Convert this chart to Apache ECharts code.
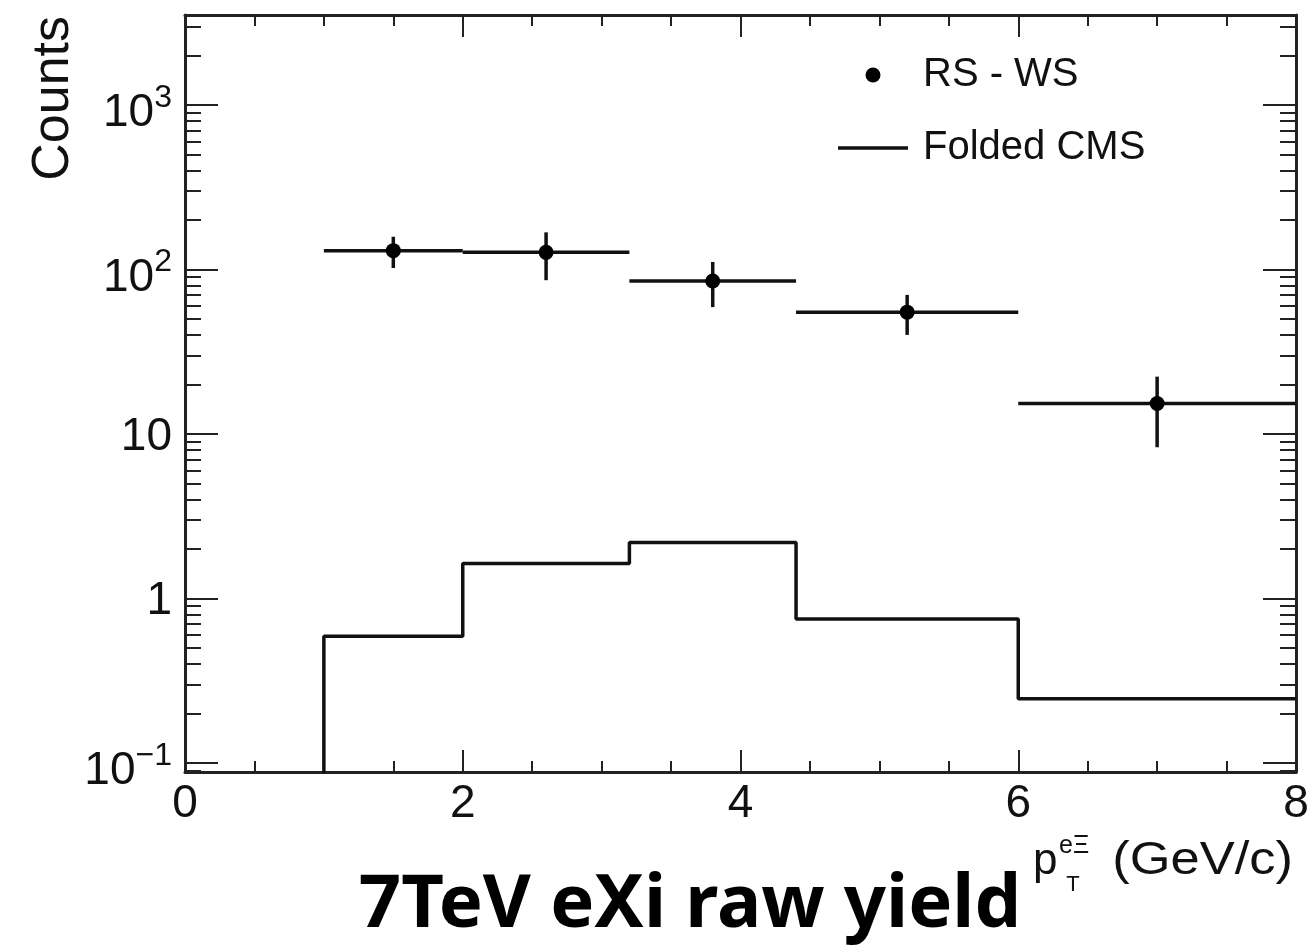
<!DOCTYPE html>
<html>
<head>
<meta charset="utf-8">
<title>7TeV eXi raw yield</title>
<script src="https://cdn.jsdelivr.net/npm/echarts@6/dist/echarts.min.js"></script>
<style>
  html, body { margin: 0; padding: 0; background: #fff; }
  #chart { width: 1312px; height: 945px; }
</style>
</head>
<body>
<div id="chart"></div>
<script>
// bin edges of the pT histogram (GeV/c)
const binEdges = [0, 1, 2, 3.2, 4.4, 6, 8];

// RS - WS points: centre, value, stat. error, bin range
const rsX = [1.5, 2.6, 3.8, 5.2, 7.0];
const rsY = [130, 127, 85, 55, 15.3];
const rsErr = [28, 41, 26, 15, 7];
const rsLo = [1, 2, 3.2, 4.4, 6];
const rsHi = [2, 3.2, 4.4, 6, 8];

// Folded CMS, one value per bin (first bin is below the axis range)
const foldedCMS = [0.01, 0.59, 1.63, 2.19, 0.75, 0.246];

// axes
const xMin = 0, xMax = 8, xInterval = 2;
const yMin = 0.0881, yMax = 3520;
const yMajor = [0.1, 1, 10, 100, 1000];
const yTickLabels = ["10^−1", "1", "10", "10^2", "10^3"];
const yMinor = [];
for (let k = -2; k <= 3; k++) {
  for (let m = 2; m <= 9; m++) {
    const v = m * Math.pow(10, k);
    if (v > yMin && v < yMax) yMinor.push(+v.toPrecision(3));
  }
}

const frameColor = "#222";
const inkColor = "#111";

const chart = echarts.init(document.getElementById("chart"));

// histogram as step line: left edge of each bin + last edge
const histData = foldedCMS.map((v, i) => [binEdges[i], v]);
histData.push([binEdges[binEdges.length - 1], foldedCMS[foldedCMS.length - 1]]);

const errData = rsX.map((x, i) => [x, rsY[i], rsLo[i], rsHi[i], rsErr[i]]);

function yLabelFmt(val) {
  const i = yMajor.findIndex(t => Math.abs(t - val) / t < 1e-6);
  if (i < 0) return "";
  const parts = yTickLabels[i].split("^");
  if (parts.length === 1) return "{n|" + parts[0] + "}";
  return "{b|" + parts[0] + "}{s|" + parts[1] + "}";
}

function yAxisCfg(pos, minor) {
  return {
    type: "log",
    logBase: 10,
    position: pos,
    min: yMin,
    max: yMax,
    axisLine: { show: !minor, lineStyle: { color: frameColor, width: 3 } },
    axisTick: {
      show: true,
      inside: true,
      length: minor ? 16 : 33,
      customValues: minor ? yMinor : yMajor,
      lineStyle: { color: frameColor, width: 2 },
    },
    axisLabel: {
      show: !minor && pos === "left",
      customValues: yMajor,
      margin: 13,
      formatter: yLabelFmt,
      rich: {
        n: { fontSize: 46, color: inkColor, fontFamily: "Liberation Sans", padding: [6, 0, 0, 0] },
        b: { fontSize: 46, color: inkColor, fontFamily: "Liberation Sans", lineHeight: 46, padding: [17, 0, 0, 0] },
        s: { fontSize: 32, color: inkColor, fontFamily: "Liberation Sans", lineHeight: 43, verticalAlign: "top" },
      },
    },
    splitLine: { show: false },
    minorTick: { show: false },
  };
}

function xAxisCfg(pos) {
  return {
    type: "value",
    position: pos,
    min: xMin,
    max: xMax,
    interval: xInterval,
    axisLine: { show: true, onZero: false, lineStyle: { color: frameColor, width: 3 } },
    axisTick: { show: true, inside: true, length: 22, lineStyle: { color: frameColor, width: 2 } },
    minorTick: { show: true, splitNumber: 4, length: 11, lineStyle: { color: frameColor, width: 2 } },
    axisLabel: {
      show: pos === "bottom",
      fontSize: 46,
      color: inkColor,
      margin: 9,
      fontFamily: "Liberation Sans",
    },
    splitLine: { show: false },
    minorSplitLine: { show: false },
  };
}

const option = {
  animation: false,
  backgroundColor: "#fff",
  textStyle: { fontFamily: "Liberation Sans" },
  grid: { left: 185, right: 16, top: 15, bottom: 173, containLabel: false },
  xAxis: [xAxisCfg("bottom"), xAxisCfg("top")],
  yAxis: [
    yAxisCfg("left", false),
    yAxisCfg("left", true),
    yAxisCfg("right", false),
    yAxisCfg("right", true),
  ],
  legend: {
    orient: "vertical",
    left: 833,
    top: 50,
    itemWidth: 70,
    itemHeight: 15,
    itemGap: 33,
    textStyle: { fontSize: 40, color: inkColor, fontFamily: "Liberation Sans", padding: [0, 0, 0, 10] },
    data: [
      { name: "RS - WS", icon: "circle", itemStyle: { color: "#000", opacity: 1 } },
      { name: "Folded CMS", icon: "path://M0,0 h70 v3.5 h-70 z", itemStyle: { color: inkColor } },
    ],
  },
  graphic: [
    {
      type: "text",
      x: 54,
      y: 16,
      rotation: Math.PI / 2,
      style: {
        text: "Counts",
        font: '52px "Liberation Sans"',
        fill: inkColor,
        align: "right",
        verticalAlign: "middle",
      },
    },
    {
      type: "text",
      x: 1033,
      y: 884,
      style: { text: "p", font: '44px "Liberation Sans"', fill: inkColor, align: "left", verticalAlign: "bottom" },
    },
    {
      type: "text",
      x: 1059,
      y: 859,
      style: { text: "eΞ", font: '25px "Liberation Sans"', fill: inkColor, align: "left", verticalAlign: "bottom" },
    },
    {
      type: "text",
      x: 1073,
      y: 896,
      style: { text: "T", font: '22px "Liberation Sans"', fill: inkColor, align: "center", verticalAlign: "bottom" },
    },
    {
      type: "text",
      x: 1293,
      y: 884,
      scaleX: 1.14,
      style: { text: "(GeV/c)", font: '46px "Liberation Sans"', fill: inkColor, align: "right", verticalAlign: "bottom" },
    },
    {
      type: "text",
      x: 690,
      y: 906,
      style: {
        text: "7TeV eXi raw yield",
        font: 'bold 74px "Noto Sans"',
        fill: "#000",
        align: "center",
        verticalAlign: "middle",
      },
    },
  ],
  series: [
    {
      name: "Folded CMS",
      type: "line",
      step: "end",
      data: histData,
      symbol: "none",
      showSymbol: false,
      clip: true,
      lineStyle: { color: inkColor, width: 3.5 },
      itemStyle: { color: inkColor },
      z: 2,
    },
    {
      name: "RS - WS errors",
      type: "custom",
      data: errData,
      encode: { x: 0, y: 1 },
      renderItem: function (params, api) {
        const x = api.value(0), y = api.value(1);
        const lo = api.value(2), hi = api.value(3), e = api.value(4);
        const pL = api.coord([lo, y]), pR = api.coord([hi, y]);
        const pT = api.coord([x, y + e]), pB = api.coord([x, y - e]);
        const st = { stroke: inkColor, lineWidth: 3.5, fill: null };
        return {
          type: "group",
          children: [
            { type: "line", shape: { x1: pL[0], y1: pL[1], x2: pR[0], y2: pR[1] }, style: st },
            { type: "line", shape: { x1: pT[0], y1: pT[1], x2: pB[0], y2: pB[1] }, style: st },
          ],
        };
      },
      z: 3,
    },
    {
      name: "RS - WS",
      type: "scatter",
      data: rsX.map((x, i) => [x, rsY[i]]),
      symbol: "circle",
      symbolSize: 15,
      itemStyle: { color: "#000", opacity: 1 },
      z: 4,
    },
  ],
};

chart.setOption(option);
</script>
</body>
</html>
